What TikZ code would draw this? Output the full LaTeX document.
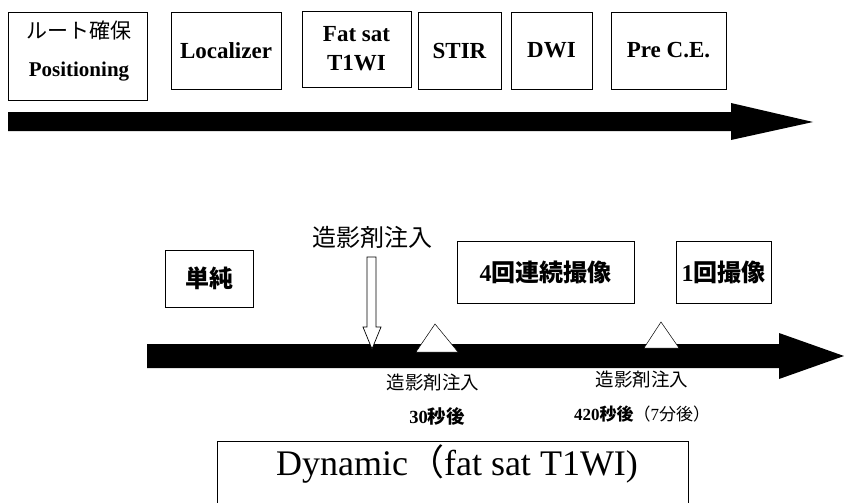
\documentclass[tikz,border=0pt]{standalone}
\usepackage{fontspec}
\setmainfont{Liberation Serif}
\newfontfamily\jp{Noto Sans CJK JP}
\begin{document}
\begin{tikzpicture}[x=1pt,y=-1pt,
  box/.style={draw=black, line width=0.8pt, fill=white, inner sep=0pt, align=center},
  lbl/.style={inner sep=0pt, align=center},
  tri/.style={draw=black, line width=0.5pt, fill=white},
  f23/.style={font=\fontsize{23}{29}\selectfont\bfseries}]
\useasboundingbox (0,0) rectangle (844,503);
\clip (0,0) rectangle (844,503);
\fill[white] (0,0) rectangle (844,503);
% top row
\node[box, minimum width=139pt, minimum height=88pt] (b1) at (77.5,56) {};
\node[lbl, font=\fontsize{21}{38}\selectfont] (b1t) at (79,51) {{\jp ルート確保}\\{\bfseries Positioning}};
\node[box, f23, minimum width=110pt, minimum height=77pt] (b2) at (226,50.5) {Localizer};
\node[box, f23, minimum width=109pt, minimum height=76pt] (b3) at (356.5,49) {Fat sat\\T1WI};
\node[box, f23, minimum width=83pt, minimum height=77pt] (b4) at (459.5,50.5) {STIR};
\node[box, f23, minimum width=81pt, minimum height=77pt] (b5) at (551.5,50.5) {DWI};
\node[box, f23, minimum width=115pt, minimum height=77pt] (b6) at (668.5,50.5) {Pre C.E.};
% top arrow
\fill[black] (8,112) -- (731,112) -- (731,103) -- (813,122) -- (731,140) -- (731,131) -- (8,131) -- cycle;
% lower row
\node[lbl, font=\jp\fontsize{24}{28}\selectfont] (inj) at (372,237) {造影剤注入};
\node[box, minimum width=88pt, minimum height=57pt, font=\jp\bfseries\fontsize{24}{28}\selectfont] (tan) at (209,278.5) {単純};
\node[box, minimum width=177pt, minimum height=62pt, font=\fontsize{24}{28}\selectfont] (yon) at (545.5,272) {{\bfseries 4}{\jp\bfseries 回連続撮像}};
\node[box, minimum width=95pt, minimum height=62pt, font=\fontsize{24}{28}\selectfont] (ichi) at (723.5,272) {{\bfseries 1}{\jp\bfseries 回撮像}};
% lower bar
\fill[black] (147,344) -- (779,344) -- (779,333) -- (844,356) -- (779,379) -- (779,368) -- (147,368) -- cycle;
% hollow arrow
\draw[line width=0.7pt, fill=white] (367,257) -- (376,257) -- (376,327) -- (381,327) -- (372,349) -- (363,327) -- (367,327) -- cycle;
% triangles
\draw[tri] (416,352) -- (435,324) -- (458,352) -- cycle;
\draw[tri] (644,348) -- (661,322) -- (679,348) -- cycle;
% labels under bar
\node[lbl, font=\jp\fontsize{18.5}{22}\selectfont] (t1a) at (433,383) {造影剤注入};
\node[lbl, font=\fontsize{18.5}{22}\selectfont] (t1b) at (437,416) {{\bfseries 30}{\jp\bfseries 秒後}};
\node[lbl, font=\jp\fontsize{18.5}{22}\selectfont] (t2a) at (642,380) {造影剤注入};
\node[lbl, font=\fontsize{17}{20}\selectfont] (t2b) at (642,414) {{\bfseries 420}{\jp\bfseries 秒後}{\jp （}7{\jp 分後）}};
% dynamic box
\draw[line width=0.8pt] (217,508) -- (217,441) -- (688,441) -- (688,508);
\node[lbl, font=\fontsize{36}{40}\selectfont] (dyn) at (457,464) {Dynamic{\jp （}fat sat T1WI)};
\end{tikzpicture}
\end{document}
